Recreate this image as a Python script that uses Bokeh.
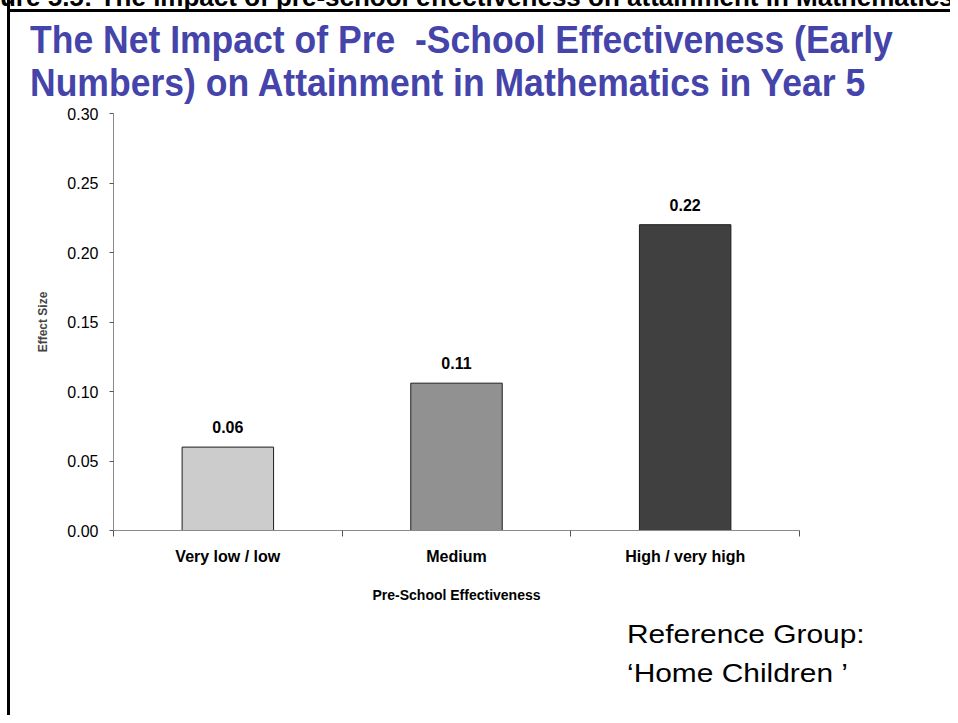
from bokeh.plotting import figure
from bokeh.layouts import column
from bokeh.models import (Range1d, FixedTicker, ColumnDataSource, LabelSet, Title, Div,
                          NumeralTickFormatter)
from bokeh.core.properties import value
from bokeh.embed import file_html
from bokeh.resources import INLINE

# ---------------- data ----------------
categories = ["Very low / low", "Medium", "High / very high"]
effect_sizes = [0.06, 0.106, 0.22]
value_labels = ["0.06", "0.11", "0.22"]
bar_colors = ["#cccccc", "#919191", "#404040"]
y_ticks = [0.00, 0.05, 0.10, 0.15, 0.20, 0.25, 0.30]

caption = "Figure 5.5: The impact of pre-school effectiveness on attainment in Mathematics in Year 5"
title_lines = ["The Net Impact of Pre  -School Effectiveness (Early",
               "Numbers) on Attainment in Mathematics in Year 5"]
x_title = "Pre-School Effectiveness"
y_title = "Effect Size"
note_lines = ["Reference Group:", "\u2018Home Children \u2019"]

FONT = "Liberation Sans"
W = 950
TOP_H, FIG_H, NOTE_H = 104, 518, 93

n = len(categories)
centers = [i + 0.5 for i in range(n)]
bounds = list(range(n + 1))

# ---------------- title block ----------------
title_html = (
    f'<div style="position:relative;width:{W}px;height:{TOP_H}px;overflow:hidden;'
    f"font-family:'{FONT}';\">"
    f'<div style="position:absolute;left:-39px;top:-16px;white-space:nowrap;font-weight:bold;'
    f'font-size:26px;line-height:26px;color:black;">{caption}</div>'
    f'<div style="position:absolute;left:7px;top:9px;width:{W}px;height:0;border-top:3px solid black;"></div>'
    f'<div style="position:absolute;left:30px;top:19px;white-space:pre;font-weight:bold;'
    f'font-size:38px;line-height:43px;color:#4444AA;transform:scaleX(0.935);transform-origin:0 0;">'
    f'{title_lines[0]}<br>{title_lines[1]}</div>'
    '</div>'
)
title_div = Div(text=title_html, width=W, height=TOP_H, margin=0)

# ---------------- chart ----------------
p = figure(width=W, height=FIG_H, title=None,
           x_range=Range1d(0, n), y_range=Range1d(0, 0.30),
           output_backend="svg", toolbar_location=None, margin=0,
           min_border_left=113, min_border_right=151,
           min_border_top=9, min_border_bottom=92)
p.outline_line_color = None
p.xgrid.grid_line_color = None
p.ygrid.grid_line_color = None
p.background_fill_color = None
p.border_fill_color = None

yax = p.yaxis[0]
yax.ticker = FixedTicker(ticks=y_ticks)
yax.formatter = NumeralTickFormatter(format="0.00")
yax.major_tick_in = 0
yax.major_tick_out = 4
yax.minor_tick_line_color = None
yax.axis_line_color = "#8a8a8a"
yax.major_tick_line_color = "#555555"
yax.major_label_text_font = FONT
yax.major_label_text_font_size = "16px"
yax.major_label_text_color = "black"
yax.major_label_standoff = 11
yax.axis_label = y_title
yax.axis_label_text_font = FONT
yax.axis_label_text_font_size = "12px"
yax.axis_label_text_font_style = "bold"
yax.axis_label_standoff = 14

xax = p.xaxis[0]
xax.ticker = FixedTicker(ticks=centers, minor_ticks=bounds)
xax.major_label_overrides = {c: name for c, name in zip(centers, categories)}
xax.major_tick_line_color = None
xax.minor_tick_in = 0
xax.minor_tick_out = 6
xax.minor_tick_line_color = "#555555"
xax.axis_line_color = "#8a8a8a"
xax.major_label_text_font = FONT
xax.major_label_text_font_size = "16px"
xax.major_label_text_font_style = "bold"
xax.major_label_text_color = "black"
xax.major_label_standoff = 11

p.add_layout(Title(text=x_title, align="center", offset=-24, standoff=34,
                   text_font=FONT, text_font_size="14px", text_font_style="bold",
                   text_color="black"), "below")

src = ColumnDataSource(dict(x=centers, cat=categories, val=effect_sizes,
                            lab=value_labels, color=bar_colors))
p.vbar(x="x", top="val", width=0.40, source=src, fill_color="color",
       line_color="#1e1e1e", line_width=1)

p.add_layout(LabelSet(x="x", y="val", text="lab", source=src, y_offset=14,
                      text_align="center", text_baseline="alphabetic",
                      text_font=value(FONT), text_font_size="16px",
                      text_font_style="bold", text_color="black"))

# ---------------- note block ----------------
note_parts = "".join(
    f'<div style="position:absolute;left:627px;top:{1 + 39 * i}px;white-space:pre;font-size:26px;'
    f'line-height:22px;color:black;transform:scaleX(1.15);transform-origin:0 0;">{t}</div>'
    for i, t in enumerate(note_lines)
)
note_html = (
    f'<div style="position:relative;width:{W}px;height:{NOTE_H}px;'
    f"font-family:'{FONT}';\">{note_parts}</div>"
)
note_div = Div(text=note_html, width=W, height=NOTE_H, margin=0)

layout = column(title_div, p, note_div, spacing=0, margin=0,
                styles={"box-shadow": "inset 7px 0 0 0 white, inset 10px 0 0 0 black",
                        "background": "white"})

open("out.html", "w").write(file_html(layout, INLINE))
